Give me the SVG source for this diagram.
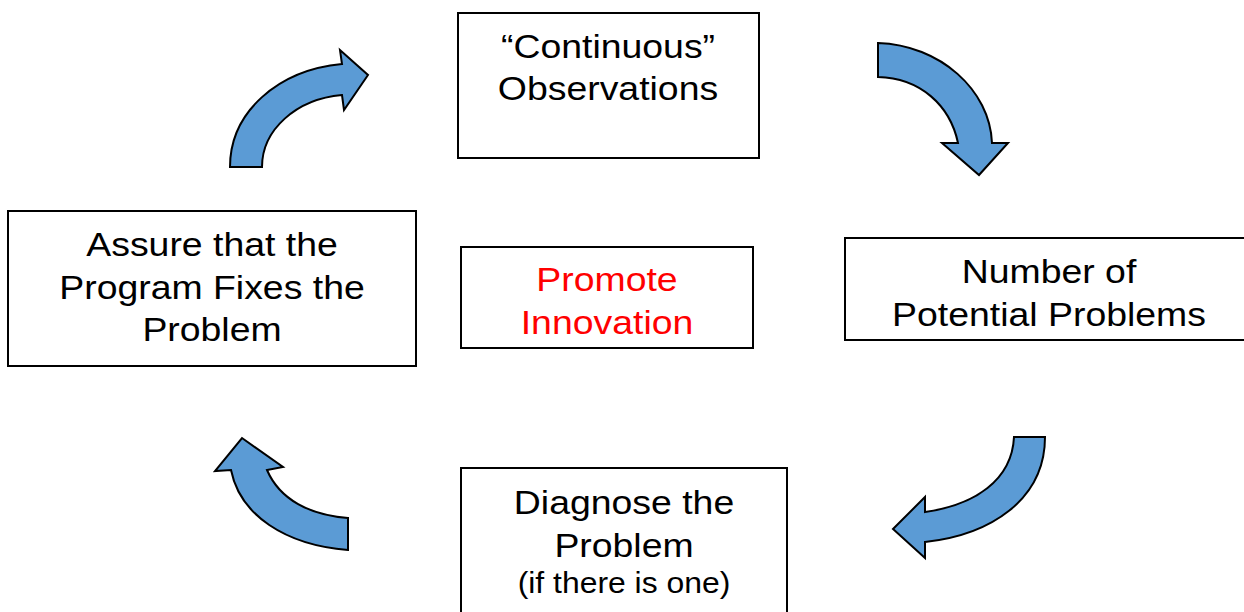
<svg xmlns="http://www.w3.org/2000/svg" width="1244" height="612" viewBox="0 0 1244 612">
<style>
.box{fill:#fff;stroke:#000;stroke-width:2}
.t{font-family:"Liberation Sans",Arial,sans-serif;font-size:34px;text-anchor:middle;fill:#000}
.s{font-size:29px}
.red{fill:#ff0000}
.arr{fill:#5B9BD5;stroke:#000;stroke-width:2;stroke-linejoin:miter}
</style>
<rect width="1244" height="612" fill="#fff"/>
<g id="connectors">
<path class="arr" d="M230,167 C230,112 278,70 342,64 L340,50 L368,75 L344,110 L342,95 C296,99 262,130 262,167 Z"/>
<path class="arr" d="M878,43 C940,45 990,90 992,143 L1008,143 L979,175 L942,143 L958,143 C950,105 920,78 878,77 Z"/>
<path class="arr" d="M1045,437 C1045,500 990,535 925,542 L925,558 L893,529 L925,497 L925,512 C975,505 1012,480 1014,437 Z"/>
<path class="arr" d="M348,550 C285,545 240,515 231,470 L215,471 L242,438 L283,467 L267,470 C280,500 310,515 348,518 Z"/>
</g>
<g id="observations">
<rect class="box" x="458" y="13" width="301" height="145"/>
<g transform="translate(608 0) scale(1.1 1)">
<text class="t" x="0" y="58">“Continuous”</text>
<text class="t" x="0" y="100">Observations</text>
</g>
</g>
<g id="potential">
<rect class="box" x="845" y="238" width="410" height="102"/>
<g transform="translate(1049 0) scale(1.1 1)">
<text class="t" x="0" y="283">Number of</text>
<text class="t" x="0" y="326">Potential Problems</text>
</g>
</g>
<g id="diagnose">
<rect class="box" x="461" y="468" width="326" height="160"/>
<g transform="translate(624 0) scale(1.1 1)">
<text class="t" x="0" y="514">Diagnose the</text>
<text class="t" x="0" y="557">Problem</text>
<text class="t s" x="0" y="593">(if there is one)</text>
</g>
</g>
<g id="assure">
<rect class="box" x="8" y="211" width="408" height="155"/>
<g transform="translate(212 0) scale(1.1 1)">
<text class="t" x="0" y="256">Assure that the</text>
<text class="t" x="0" y="299">Program Fixes the</text>
<text class="t" x="0" y="341">Problem</text>
</g>
</g>
<g id="innovation">
<rect class="box" x="461" y="247" width="292" height="101"/>
<g transform="translate(607 0) scale(1.1 1)">
<text class="t red" x="0" y="291">Promote</text>
<text class="t red" x="0" y="334">Innovation</text>
</g>
</g>
</svg>
